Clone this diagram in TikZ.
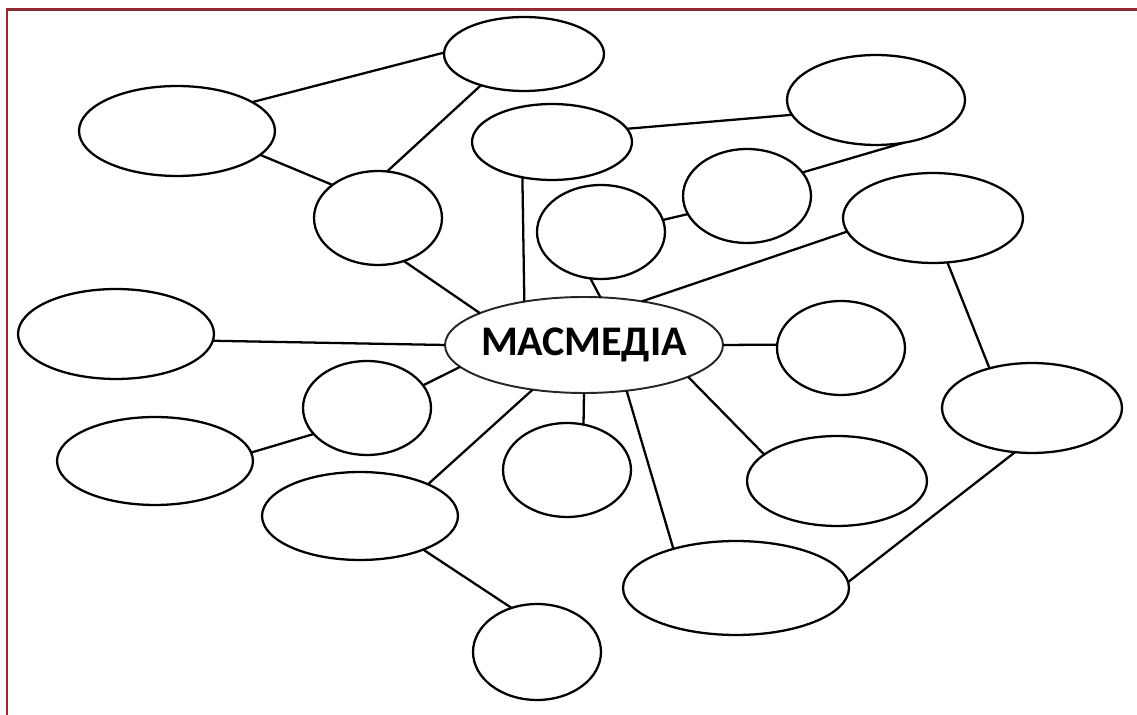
\documentclass[tikz,border=0pt]{standalone}
\usepackage{fontspec}
\setmainfont{Carlito}
\usetikzlibrary{shapes.geometric}
\definecolor{frame}{HTML}{8E2B2E}
\tikzset{
  ov/.style 2 args={ellipse,draw=black,line width=1.3pt,inner sep=0pt,outer sep=0pt,fill=white,
    minimum width=#1*0.04cm,minimum height=#2*0.04cm},
  link/.style={line width=1.3pt,black},
  hub/.style={ellipse,draw=black!85,line width=1.1pt,inner sep=0pt,outer sep=0pt,fill=white,
    minimum width=278*0.02cm,minimum height=96*0.02cm,
    label={[font=\bfseries\fontsize{24}{28}\selectfont]center:#1}}
}
\begin{document}
\begin{tikzpicture}[x=0.02cm,y=-0.02cm]
\useasboundingbox (0,0) rectangle (1137,715);
\draw[frame,line width=0.06cm] (7,715) -- (7,10) -- (1137,10);
% nodes
\node[ov={80}{37}] (n1) at (524,54) {};
\node[ov={98}{45}] (n2) at (177,131) {};
\node[ov={64}{47}] (n3) at (378,218) {};
\node[ov={80}{38}] (n4) at (552,142) {};
\node[ov={89}{45}] (n5) at (876,100) {};
\node[ov={64}{47}] (n6) at (747,196) {};
\node[ov={64}{47}] (n7) at (601,232) {};
\node[ov={90}{45}] (n8) at (933,218) {};
\node[ov={98}{45}] (n9) at (116,334) {};
\node[hub={МАСМЕДІА}] (c) at (584,345) {};
\node[ov={64}{47}] (n11) at (841,348) {};
\node[ov={90}{45}] (n12) at (1032,408) {};
\node[ov={64}{47}] (n13) at (367,408) {};
\node[ov={98}{44}] (n14) at (155,461) {};
\node[ov={64}{47}] (n15) at (567,470) {};
\node[ov={90}{45}] (n16) at (837,481) {};
\node[ov={98}{44}] (n17) at (360,516) {};
\node[ov={113}{47}] (n18) at (736,588) {};
\node[ov={64}{48}] (n19) at (537,652) {};
% connectors
\draw[link] (n2.21) -- (n1.179);
\draw[link] (n1.216) -- (n3.79);
\draw[link] (n2.344) -- (n3.144);
\draw[link] (n3.301) -- (c.163);
\draw[link] (n4.10.6) -- (n5.190.5);
\draw[link] (n4.230.5) -- (c.144);
\draw[link] (n7.257) -- (c.71);
\draw[link] (n7.11.5) -- (n6.197.6);
\draw[link] (n6.23.8) -- (n5.303);
\draw[link] (n8.189.4) -- (c.37.6);
\draw[link] (n8.288.4) -- (n12.137.9);
\draw[link] (n9.356.5) -- (c.180);
\draw[link] (c.0) -- (n11.177.3);
\draw[link] (c.190) -- (n13.22.6);
\draw[link] (n13.206.6) -- (n14.5.2);
\draw[link] (c.221.9) -- (n17.25.5);
\draw[link] (c.270) -- (n15.70);
\draw[link] (c.313) -- (n18.148);
\draw[link] (c.343.7) -- (n16.160.9);
\draw[link] (n12.249.3) -- (n18.3.1);
\draw[link] (n17.332.4) -- (n19.120.4);
\end{tikzpicture}
\end{document}
